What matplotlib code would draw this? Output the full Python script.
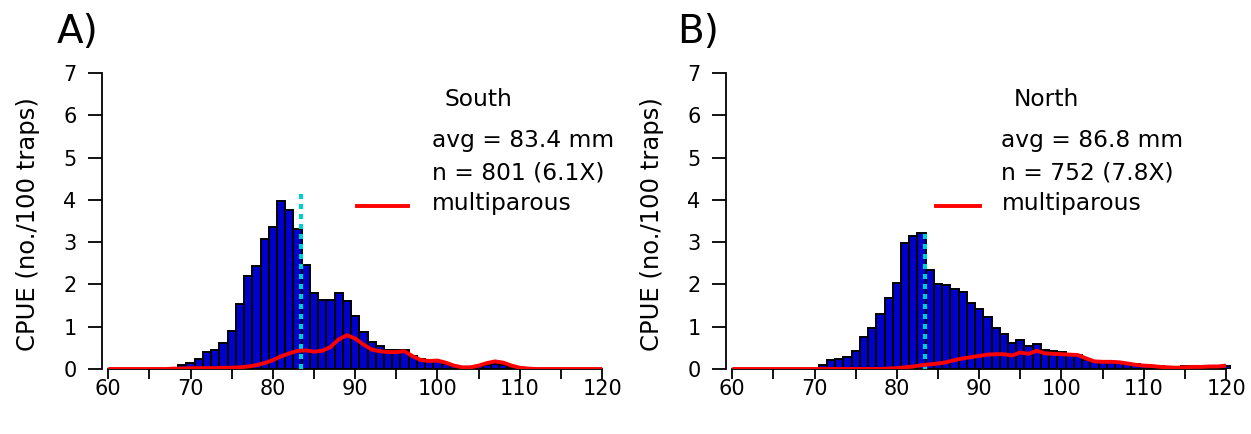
import numpy as np
import matplotlib
matplotlib.use("Agg")
import matplotlib.pyplot as plt

plt.rcParams['font.family'] = ['DejaVu Sans']

# ---- data ----
south_bins = list(range(68, 111))
south_cpue = [0.02, 0.09, 0.15, 0.24, 0.40, 0.46, 0.61, 0.91, 1.54, 2.20,
              2.44, 3.08, 3.35, 3.97, 3.75, 3.31, 2.47, 1.80, 1.63, 1.63,
              1.80, 1.61, 1.25, 0.87, 0.64, 0.55, 0.46, 0.45, 0.46, 0.31,
              0.23, 0.19, 0.19, 0.12, 0.06, 0.03, 0.04, 0.06, 0.10, 0.13,
              0.10, 0.04, 0.01]

north_bins = list(range(71, 121))
north_cpue = [0.09, 0.21, 0.24, 0.28, 0.43, 0.76, 0.98, 1.30, 1.69, 2.04,
              2.97, 3.14, 3.22, 2.34, 2.02, 1.98, 1.89, 1.83, 1.57, 1.42,
              1.24, 0.98, 0.83, 0.61, 0.69, 0.55, 0.58, 0.46, 0.43, 0.40,
              0.35, 0.33, 0.21, 0.17, 0.17, 0.17, 0.14, 0.12, 0.11, 0.09,
              0.08, 0.06, 0.05, 0.04, 0.06, 0.06, 0.06, 0.06, 0.07, 0.08]

curve_x = list(range(60, 121))
south_multi = [0, 0, 0, 0, 0, 0, 0, 0, 0.01, 0.01,
               0.02, 0.02, 0.02, 0.02, 0.03, 0.03, 0.04, 0.06, 0.09, 0.14,
               0.21, 0.30, 0.37, 0.43, 0.44, 0.41, 0.43, 0.52, 0.70, 0.80,
               0.72, 0.58, 0.46, 0.42, 0.40, 0.40, 0.42, 0.30, 0.21, 0.19,
               0.20, 0.15, 0.08, 0.04, 0.04, 0.08, 0.14, 0.18, 0.15, 0.08,
               0.03, 0.01, 0, 0, 0, 0, 0, 0, 0, 0, 0]
north_multi = [0, 0, 0, 0, 0, 0, 0, 0, 0, 0,
               0, 0, 0, 0, 0, 0, 0, 0, 0, 0.01,
               0.02, 0.04, 0.06, 0.09, 0.11, 0.13, 0.16, 0.21, 0.25, 0.28,
               0.31, 0.34, 0.35, 0.35, 0.32, 0.39, 0.36, 0.43, 0.37, 0.36,
               0.35, 0.34, 0.33, 0.25, 0.18, 0.17, 0.17, 0.16, 0.13, 0.10,
               0.08, 0.07, 0.05, 0.04, 0.03, 0.04, 0.05, 0.05, 0.06, 0.06, 0.08]

ref_line_x = 83.4
ref_top = [4.15, 3.2]

panel_labels = ["A)", "B)"]
regions = ["South", "North"]
avgs = ["avg = 83.4 mm", "avg = 86.8 mm"]
ns = ["n = 801 (6.1X)", "n = 752 (7.8X)"]
xticks = list(range(60, 121, 5))
xticklabels = [str(t) if t % 10 == 0 else "" for t in xticks]
yticks = list(range(0, 8))

W, H = 1251, 434
fig = plt.figure(figsize=(W / 100, H / 100), dpi=100)

axes_left_px = [101.7, 725.7]
label_left_px = [57, 677]
ylabel_x_px = [28, 652]
legend_line = [(90.2, 96.45), (84.8, 90.1)]
text_x = [99.3, 92.7]
fs_leg = 16.8

for i, (bins, cpue, multi) in enumerate([(south_bins, south_cpue, south_multi),
                                          (north_bins, north_cpue, north_multi)]):
    ax = fig.add_axes([axes_left_px[i] / W, 1 - 369 / H, 507.8 / W, 296 / H])
    ax.bar(bins, cpue, width=1.0, color="#0000CD", edgecolor="black", linewidth=1.4, zorder=2)
    ax.plot([ref_line_x, ref_line_x], [0, ref_top[i]], color="#00CDCD",
            linestyle=(0, (1.2, 1.2)), linewidth=3, zorder=3)
    ax.plot(curve_x, multi, color="red", linewidth=2.8, zorder=4, solid_capstyle="butt")
    ax.set_xlim(59.2, 120.9)
    ax.set_ylim(0, 7)
    for s in ["top", "right"]:
        ax.spines[s].set_visible(False)
    ax.spines["left"].set_bounds(0, 7)
    ax.spines["bottom"].set_bounds(60, 120)
    ax.spines["left"].set_linewidth(1.3)
    ax.spines["bottom"].set_linewidth(1.3)
    ax.set_xticks(xticks)
    ax.set_xticklabels(xticklabels)
    ax.set_yticks(yticks)
    ax.tick_params(axis="x", length=7, width=1.3, pad=0.5, labelsize=15)
    ax.tick_params(axis="y", length=10, width=1.3, pad=8, labelsize=15)
    fig.text(ylabel_x_px[i] / W, 1 - 224 / H, "CPUE (no./100 traps)", fontsize=17.5,
             rotation=90, ha="center", va="center")
    # legend-like text
    ax.text(text_x[i] + 1.5, 6.22, regions[i], fontsize=fs_leg, va="baseline", ha="left")
    ax.text(text_x[i], 5.25, avgs[i], fontsize=fs_leg, va="baseline", ha="left")
    ax.text(text_x[i], 4.47, ns[i], fontsize=fs_leg, va="baseline", ha="left")
    ax.text(text_x[i], 3.76, "multiparous", fontsize=fs_leg, va="baseline", ha="left")
    ax.plot(legend_line[i], [3.85, 3.85], color="red", linewidth=2.8, clip_on=False)
    fig.text(label_left_px[i] / W, 1 - 43 / H, panel_labels[i], fontsize=28,
             va="baseline", ha="left")

fig.savefig("out.png", dpi=100)
